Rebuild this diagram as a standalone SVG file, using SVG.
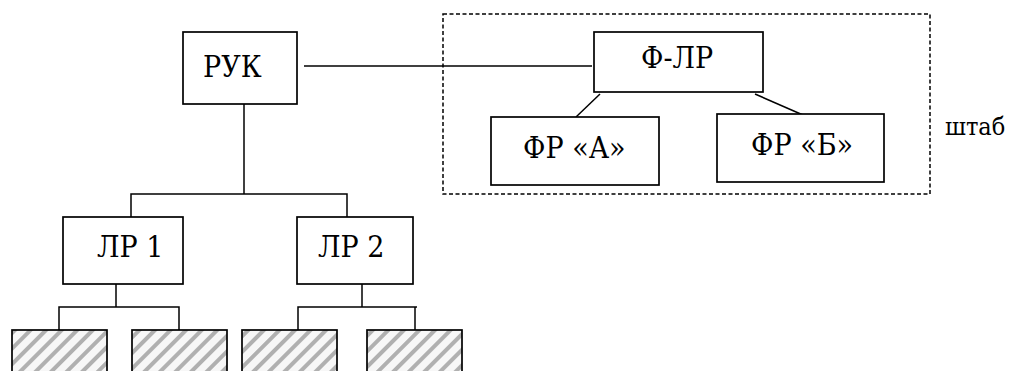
<svg xmlns="http://www.w3.org/2000/svg" width="1013" height="371" viewBox="0 0 1013 371">
  <defs>
    <!-- diagonal hatching for the lower-level units -->
    <pattern id="hatch" width="11" height="11" patternUnits="userSpaceOnUse" patternTransform="rotate(45 0 0)">
      <rect x="0" y="0" width="11" height="11" fill="#f7f7f7"/>
      <rect x="0" y="0" width="4" height="11" fill="#b0b0b0"/>
    </pattern>
    <style>
      .box { fill: #ffffff; stroke: #000000; stroke-width: 1.7; }
      .unit { fill: url(#hatch); stroke: #000000; stroke-width: 1.7; }
      .link { fill: none; stroke: #000000; stroke-width: 1.5; }
      .staff { fill: none; stroke: #000000; stroke-width: 1.5; stroke-dasharray: 4 2.5; }
      text { fill: #000000; font-family: 'DejaVu Serif Condensed', 'DejaVu Serif', serif; }
      .lbl { font-size: 30px; }
      .note { font-size: 25px; }
    </style>
  </defs>
  <rect width="1013" height="371" fill="#ffffff"/>

  <!-- staff boundary -->
  <g id="staff">
    <rect class="staff" x="443" y="14" width="487" height="180"/>
    <text class="note" x="945" y="135">штаб</text>
  </g>

  <!-- connectors -->
  <g id="connectors">
    <line class="link" x1="304" y1="66" x2="592" y2="66"/>
    <line class="link" x1="600" y1="94" x2="576" y2="117"/>
    <line class="link" x1="755" y1="94" x2="803" y2="115"/>
    <polyline class="link" points="244,104 244,194"/>
    <polyline class="link" points="131,217 131,194 347,194 347,217"/>
    <polyline class="link" points="116,284 116,307"/>
    <polyline class="link" points="59,330 59,307 179,307 179,330"/>
    <polyline class="link" points="362,284 362,307"/>
    <polyline class="link" points="298,330 298,307 417,307"/>
    <line class="link" x1="415" y1="307" x2="415" y2="330"/>
  </g>

  <g id="ruk">
    <rect class="box" x="183" y="32" width="114" height="72"/>
    <text class="lbl" x="203" y="77">РУК</text>
  </g>

  <g id="f-lr">
    <rect class="box" x="594" y="32" width="169" height="60"/>
    <text class="lbl" x="641" y="68">Ф-ЛР</text>
  </g>

  <g id="fr-a">
    <rect class="box" x="491" y="117" width="168" height="68"/>
    <text class="lbl" x="523" y="158">ФР «А»</text>
  </g>

  <g id="fr-b">
    <rect class="box" x="717" y="114" width="167" height="68"/>
    <text class="lbl" x="751" y="155">ФР «Б»</text>
  </g>

  <g id="lr1">
    <rect class="box" x="63" y="217" width="120" height="67"/>
    <text class="lbl" x="97" y="257">ЛР 1</text>
  </g>

  <g id="lr2">
    <rect class="box" x="297" y="217" width="116" height="67"/>
    <text class="lbl" x="318" y="257">ЛР 2</text>
  </g>

  <g id="unit-1">
    <rect class="unit" x="12" y="330" width="95" height="60"/>
  </g>
  <g id="unit-2">
    <rect class="unit" x="132" y="330" width="95" height="60"/>
  </g>
  <g id="unit-3">
    <rect class="unit" x="242" y="330" width="95" height="60"/>
  </g>
  <g id="unit-4">
    <rect class="unit" x="367" y="330" width="95" height="60"/>
  </g>
</svg>
